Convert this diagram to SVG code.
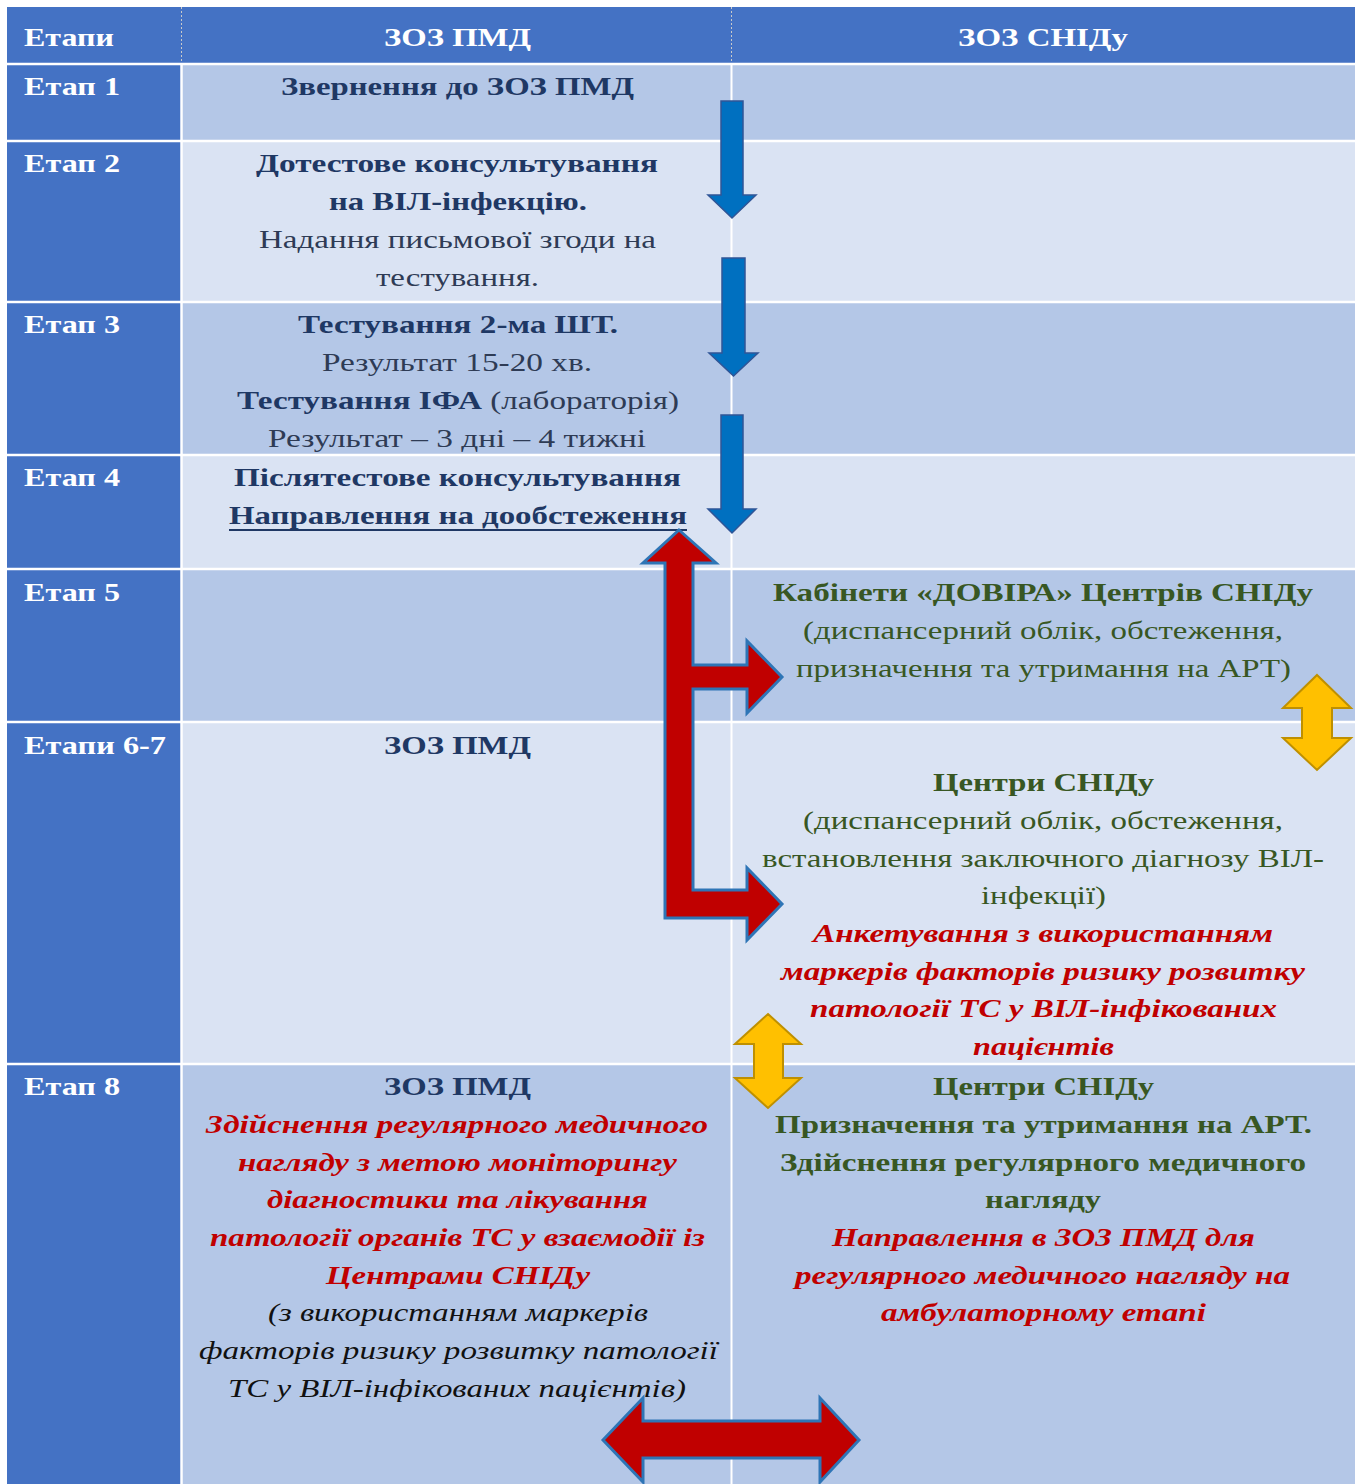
<svg xmlns="http://www.w3.org/2000/svg" width="1358" height="1484" viewBox="0 0 1358 1484">
<style>
text{font-family:"Liberation Serif","Times New Roman",serif;font-size:26px}
.hd{fill:#4472C4}
.dk{fill:#B4C7E7}
.lt{fill:#DAE3F3}
.w{fill:#FFFFFF;font-weight:bold}
.nb{fill:#1F3864;font-weight:bold}
.nn{fill:#2E3B55}
.gb{fill:#385723;font-weight:bold}
.gn{fill:#385723}
.rb{fill:#C00000;font-weight:bold;font-style:italic}
.ki{fill:#111111;font-style:italic}
.sep{stroke:#FFFFFF;stroke-width:2.5}
.blue{fill:#0070C0;stroke:#2F5597;stroke-width:1.5}
.red{fill:#C00000;stroke:#2E75B6;stroke-width:3;stroke-linejoin:miter}
.yel{fill:#FFC000;stroke:#BF9000;stroke-width:2}
</style>
<rect x="0" y="0" width="1358" height="1484" fill="#FFFFFF"/>

<g id="header">
<rect x="7" y="7" width="1348" height="56" class="hd"/>
<line x1="181.5" y1="7" x2="181.5" y2="63" stroke="#C9C9C9" stroke-width="1" stroke-dasharray="2,2"/>
<line x1="731.5" y1="7" x2="731.5" y2="63" stroke="#C9C9C9" stroke-width="1" stroke-dasharray="2,2"/>
<text x="24" y="46" class="w" textLength="90" lengthAdjust="spacingAndGlyphs">Етапи</text>
<text x="457.5" y="46" class="w" text-anchor="middle" textLength="147" lengthAdjust="spacingAndGlyphs">ЗОЗ ПМД</text>
<text x="1043" y="46" class="w" text-anchor="middle" textLength="170" lengthAdjust="spacingAndGlyphs">ЗОЗ СНІДу</text>
</g>

<g id="row-backgrounds">
<rect x="7" y="64" width="1348" height="77" class="dk"/>
<rect x="7" y="141" width="1348" height="161" class="lt"/>
<rect x="7" y="302" width="1348" height="153" class="dk"/>
<rect x="7" y="455" width="1348" height="114" class="lt"/>
<rect x="7" y="569" width="1348" height="153" class="dk"/>
<rect x="7" y="722" width="1348" height="342" class="lt"/>
<rect x="7" y="1064" width="1348" height="420" class="dk"/>
<rect x="7" y="64" width="174" height="1420" class="hd"/>
<line x1="7" y1="64" x2="1355" y2="64" class="sep"/>
<line x1="7" y1="141" x2="1355" y2="141" class="sep"/>
<line x1="7" y1="302" x2="1355" y2="302" class="sep"/>
<line x1="7" y1="455" x2="1355" y2="455" class="sep"/>
<line x1="7" y1="569" x2="1355" y2="569" class="sep"/>
<line x1="7" y1="722" x2="1355" y2="722" class="sep"/>
<line x1="7" y1="1064" x2="1355" y2="1064" class="sep"/>
<line x1="181.5" y1="64" x2="181.5" y2="1484" class="sep"/>
<line x1="731.5" y1="64" x2="731.5" y2="1484" stroke="#FFFFFF" stroke-width="2"/>
</g>

<g id="stage-1">
<text x="24" y="95" class="w" textLength="96" lengthAdjust="spacingAndGlyphs">Етап 1</text>
<text x="457.5" y="95" class="nb" text-anchor="middle" textLength="353" lengthAdjust="spacingAndGlyphs">Звернення до ЗОЗ ПМД</text>
</g>

<g id="stage-2">
<text x="24" y="172" class="w" textLength="96" lengthAdjust="spacingAndGlyphs">Етап 2</text>
<text x="457" y="172" class="nb" text-anchor="middle" textLength="402" lengthAdjust="spacingAndGlyphs">Дотестове консультування</text>
<text x="458" y="210" class="nb" text-anchor="middle" textLength="258" lengthAdjust="spacingAndGlyphs">на ВІЛ-інфекцію.</text>
<text x="457.5" y="248" class="nn" text-anchor="middle" textLength="397" lengthAdjust="spacingAndGlyphs">Надання письмової згоди на</text>
<text x="457.5" y="286" class="nn" text-anchor="middle" textLength="163" lengthAdjust="spacingAndGlyphs">тестування.</text>
</g>

<g id="stage-3">
<text x="24" y="333" class="w" textLength="96" lengthAdjust="spacingAndGlyphs">Етап 3</text>
<text x="458" y="333" class="nb" text-anchor="middle" textLength="320" lengthAdjust="spacingAndGlyphs">Тестування 2-ма ШТ.</text>
<text x="457" y="371" class="nn" text-anchor="middle" textLength="270" lengthAdjust="spacingAndGlyphs">Результат 15-20 хв.</text>
<text x="458" y="409" class="nn" text-anchor="middle" textLength="442" lengthAdjust="spacingAndGlyphs"><tspan class="nb">Тестування ІФА</tspan> (лабораторія)</text>
<text x="457" y="447" class="nn" text-anchor="middle" textLength="378" lengthAdjust="spacingAndGlyphs">Результат – 3 дні – 4 тижні</text>
</g>

<g id="stage-4">
<text x="24" y="486" class="w" textLength="96" lengthAdjust="spacingAndGlyphs">Етап 4</text>
<text x="457.5" y="486" class="nb" text-anchor="middle" textLength="447" lengthAdjust="spacingAndGlyphs">Післятестове консультування</text>
<text x="458" y="524" class="nb" text-anchor="middle" textLength="458" lengthAdjust="spacingAndGlyphs">Направлення на дообстеження</text>
<line x1="229" y1="530" x2="687" y2="530" stroke="#1F3864" stroke-width="2"/>
</g>

<g id="stage-5">
<text x="24" y="601" class="w" textLength="96" lengthAdjust="spacingAndGlyphs">Етап 5</text>
<text x="1043" y="601" class="gb" text-anchor="middle" textLength="540" lengthAdjust="spacingAndGlyphs">Кабінети «ДОВІРА» Центрів СНІДу</text>
<text x="1043" y="639" class="gn" text-anchor="middle" textLength="480" lengthAdjust="spacingAndGlyphs">(диспансерний облік, обстеження,</text>
<text x="1043.5" y="677" class="gn" text-anchor="middle" textLength="495" lengthAdjust="spacingAndGlyphs">призначення та утримання на АРТ)</text>
</g>

<g id="stage-6-7">
<text x="24" y="754" class="w" textLength="142" lengthAdjust="spacingAndGlyphs">Етапи 6-7</text>
<text x="457.5" y="754" class="nb" text-anchor="middle" textLength="147" lengthAdjust="spacingAndGlyphs">ЗОЗ ПМД</text>
<text x="1043.5" y="791" class="gb" text-anchor="middle" textLength="221" lengthAdjust="spacingAndGlyphs">Центри СНІДу</text>
<text x="1043" y="829" class="gn" text-anchor="middle" textLength="480" lengthAdjust="spacingAndGlyphs">(диспансерний облік, обстеження,</text>
<text x="1043" y="867" class="gn" text-anchor="middle" textLength="562" lengthAdjust="spacingAndGlyphs">встановлення заключного діагнозу ВІЛ-</text>
<text x="1043.5" y="904" class="gn" text-anchor="middle" textLength="125" lengthAdjust="spacingAndGlyphs">інфекції)</text>
<text x="1043" y="942" class="rb" text-anchor="middle" textLength="460" lengthAdjust="spacingAndGlyphs">Анкетування з використанням</text>
<text x="1043" y="980" class="rb" text-anchor="middle" textLength="524" lengthAdjust="spacingAndGlyphs">маркерів факторів ризику розвитку</text>
<text x="1043.5" y="1017" class="rb" text-anchor="middle" textLength="467" lengthAdjust="spacingAndGlyphs">патології ТС у ВІЛ-інфікованих</text>
<text x="1043.5" y="1055" class="rb" text-anchor="middle" textLength="141" lengthAdjust="spacingAndGlyphs">пацієнтів</text>
</g>

<g id="stage-8">
<text x="24" y="1095" class="w" textLength="96" lengthAdjust="spacingAndGlyphs">Етап 8</text>
<text x="457.5" y="1095" class="nb" text-anchor="middle" textLength="147" lengthAdjust="spacingAndGlyphs">ЗОЗ ПМД</text>
<text x="457" y="1133" class="rb" text-anchor="middle" textLength="502" lengthAdjust="spacingAndGlyphs">Здійснення регулярного медичного</text>
<text x="457.5" y="1171" class="rb" text-anchor="middle" textLength="439" lengthAdjust="spacingAndGlyphs">нагляду з метою моніторингу</text>
<text x="457.5" y="1208" class="rb" text-anchor="middle" textLength="381" lengthAdjust="spacingAndGlyphs">діагностики та лікування</text>
<text x="457.5" y="1246" class="rb" text-anchor="middle" textLength="495" lengthAdjust="spacingAndGlyphs">патології органів ТС у взаємодії із</text>
<text x="458" y="1284" class="rb" text-anchor="middle" textLength="264" lengthAdjust="spacingAndGlyphs">Центрами СНІДу</text>
<text x="458" y="1321" class="ki" text-anchor="middle" textLength="380" lengthAdjust="spacingAndGlyphs">(з використанням маркерів</text>
<text x="458.5" y="1359" class="ki" text-anchor="middle" textLength="519" lengthAdjust="spacingAndGlyphs">факторів ризику розвитку патології</text>
<text x="457" y="1397" class="ki" text-anchor="middle" textLength="458" lengthAdjust="spacingAndGlyphs">ТС у ВІЛ-інфікованих пацієнтів)</text>
<text x="1043.5" y="1095" class="gb" text-anchor="middle" textLength="221" lengthAdjust="spacingAndGlyphs">Центри СНІДу</text>
<text x="1043.5" y="1133" class="gb" text-anchor="middle" textLength="537" lengthAdjust="spacingAndGlyphs">Призначення та утримання на АРТ.</text>
<text x="1043" y="1171" class="gb" text-anchor="middle" textLength="526" lengthAdjust="spacingAndGlyphs">Здійснення регулярного медичного</text>
<text x="1043" y="1208" class="gb" text-anchor="middle" textLength="116" lengthAdjust="spacingAndGlyphs">нагляду</text>
<text x="1043.5" y="1246" class="rb" text-anchor="middle" textLength="423" lengthAdjust="spacingAndGlyphs">Направлення в ЗОЗ ПМД для</text>
<text x="1042.5" y="1284" class="rb" text-anchor="middle" textLength="495" lengthAdjust="spacingAndGlyphs">регулярного медичного нагляду на</text>
<text x="1043.5" y="1321" class="rb" text-anchor="middle" textLength="325" lengthAdjust="spacingAndGlyphs">амбулаторному етапі</text>
</g>

<g id="connectors">
<polygon class="blue" points="721,101 743,101 743,195 756,195 732,218 708,195 721,195"/>
<polygon class="blue" points="722,258 745,258 745,353 758,353 733.5,376 709,353 722,353"/>
<polygon class="blue" points="721,415 743,415 743,509 756,509 732,533 708,509 721,509"/>
<polygon class="red" points="679,530 716,563 693,563 693,665 747,665 747,641 782,677 747,713 747,689 693,689 693,890 747,890 747,868 782,904 747,940 747,918 665,918 665,563 643,563"/>
<polygon class="yel" points="1317,675 1351,708 1332,708 1332,738 1351,738 1317,770 1283,738 1302,738 1302,708 1283,708"/>
<polygon class="yel" points="768,1014 801,1044 783,1044 783,1078 801,1078 768,1108 735,1078 754,1078 754,1044 735,1044"/>
<polygon class="red" points="603,1440 643,1398 643,1421 820,1421 820,1398 859,1440 820,1482 820,1458 643,1458 643,1482"/>
</g>
</svg>
